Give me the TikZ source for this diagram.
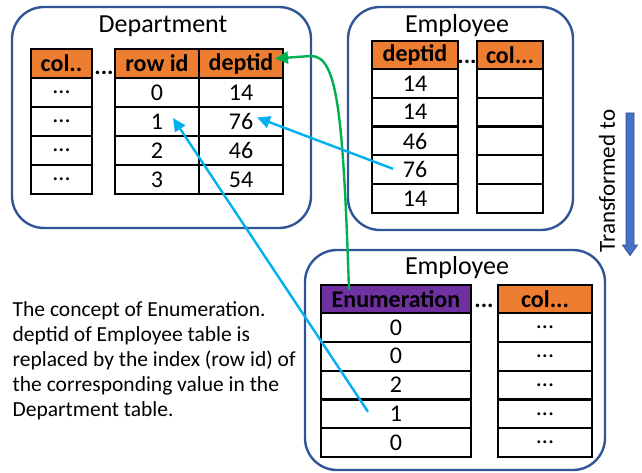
\documentclass[tikz,border=0pt]{standalone}
\usepackage{fontspec}
\setmainfont{Carlito}
\usetikzlibrary{arrows.meta,calc}
\definecolor{hdrorange}{HTML}{ED7D31}
\definecolor{hdrpurple}{HTML}{7030A0}
\definecolor{frameblue}{HTML}{2F5597}
\definecolor{linkblue}{HTML}{00B0F0}
\definecolor{linkgreen}{HTML}{00B050}
\definecolor{flowblue}{HTML}{4472C4}
\definecolor{flowedge}{HTML}{2F528F}
\begin{document}
\begin{tikzpicture}[x=1pt,y=-1pt,
  frame/.style={draw=frameblue,line width=2.4pt,rounded corners=32pt},
  cell/.style={draw=black,line width=2.2pt,inner sep=0pt,fill=white,
    font=\fontsize{24}{26}\selectfont},
  hdr/.style={cell,fill=hdrorange,font=\fontsize{24}{26}\selectfont\bfseries},
  enumhdr/.style={cell,fill=hdrpurple,font=\fontsize{24}{26}\selectfont\bfseries},
  title/.style={font=\fontsize{26}{30}\selectfont,inner sep=0pt,anchor=base},
  gap/.style={font=\fontsize{24}{26}\selectfont\bfseries,inner sep=0pt,anchor=base},
  link/.style={line width=2.4pt,-{Triangle[length=13pt,width=12pt]}}]
\useasboundingbox (0,0) rectangle (642,473);

% ---- frames ----
\draw[frame] (12,7) rectangle (311,228);
\draw[frame] (348,7) rectangle (573,230);
\draw[frame] (305,250) rectangle (605,470);

% ---- Department ----
\node[title] (depttitle) at (163,33) {Department};
\node[hdr,minimum width=61pt,minimum height=29pt] (dA) at (61.5,63.5) {col..};
\node[hdr,minimum width=84pt,minimum height=29pt] (dR) at (157,63.5) {row id};
\node[hdr,minimum width=84pt,minimum height=29pt] (dD) at (241,63.5) {deptid};
\node[gap] (dgap) at (104,75) {...};
\foreach \i/\r/\v in {1/0/14,2/1/76,3/2/46,4/3/54}{
  \node[cell,minimum width=61pt,minimum height=29pt] (dA\i) at (61.5,{63.5+29*\i}) {...};
  \node[cell,minimum width=84pt,minimum height=29pt] (dR\i) at (157,{63.5+29*\i}) {\r};
  \node[cell,minimum width=84pt,minimum height=29pt] (dD\i) at (241,{63.5+29*\i}) {\v};
}

% ---- Employee (before) ----
\node[title] (emptitle) at (457,33) {Employee};
\node[hdr,minimum width=86pt,minimum height=28pt] (eD) at (415,55) {deptid};
\node[hdr,minimum width=66pt,minimum height=28pt] (eC) at (510,55) {col...};
\node[gap] (egap) at (467,64) {...};
\foreach \i/\v in {1/14,2/14,3/46,4/76,5/14}{
  \node[cell,minimum width=86pt,minimum height=28.8pt] (eD\i) at (415,{55+14+28.8*\i-14.4}) {\v};
  \node[cell,minimum width=66pt,minimum height=28.8pt] (eC\i) at (510,{55+14+28.8*\i-14.4}) {};
}

% ---- Employee (after) ----
\node[title] (enctitle) at (457,274) {Employee};
\node[enumhdr,minimum width=150pt,minimum height=28pt] (nE) at (396,299) {Enumeration};
\node[hdr,minimum width=94pt,minimum height=28pt] (nC) at (545,299) {col...};
\node[gap] (ngap) at (484,307) {...};
\foreach \i/\v in {1/0,2/0,3/2,4/1,5/0}{
  \node[cell,minimum width=150pt,minimum height=28.8pt] (nE\i) at (396,{299+14+28.8*\i-14.4}) {\v};
  \node[cell,minimum width=94pt,minimum height=28.8pt] (nC\i) at (545,{299+14+28.8*\i-14.4}) {...};
}

% ---- transformation marker ----
\node[font=\fontsize{23}{26}\selectfont,rotate=90,inner sep=0pt] (trans) at (607,181) {Transformed to};
\fill[flowblue,draw=flowedge,line width=0.8pt]
  (626,113) -- (634,113) -- (634,245) -- (637.5,245) -- (630,255.5)
  -- (622.5,245) -- (626,245) -- cycle;

% ---- links ----
\draw[link,linkgreen] ($(nE.center)+(-47,-9)$)
  .. controls (343,110) and (337,56) .. (311,56) -- ($(dD.center)+(34,-5)$);
\draw[link,linkblue] ($(eD4.center)+(-22,-1)$) -- ($(dD2.center)+(16,-4)$);
\draw[link,linkblue] ($(nE4.center)+(-28,-2)$) -- ($(dR2.center)+(16,-3.5)$);

% ---- note ----
\node[anchor=north west,inner sep=0pt,align=left,
  font=\fontsize{21.5}{25}\selectfont] (note) at (12.5,301.5)
  {The concept of Enumeration.\\deptid of Employee table is\\replaced by the index (row id) of\\the corresponding value in the\\Department table.};
\end{tikzpicture}
\end{document}
